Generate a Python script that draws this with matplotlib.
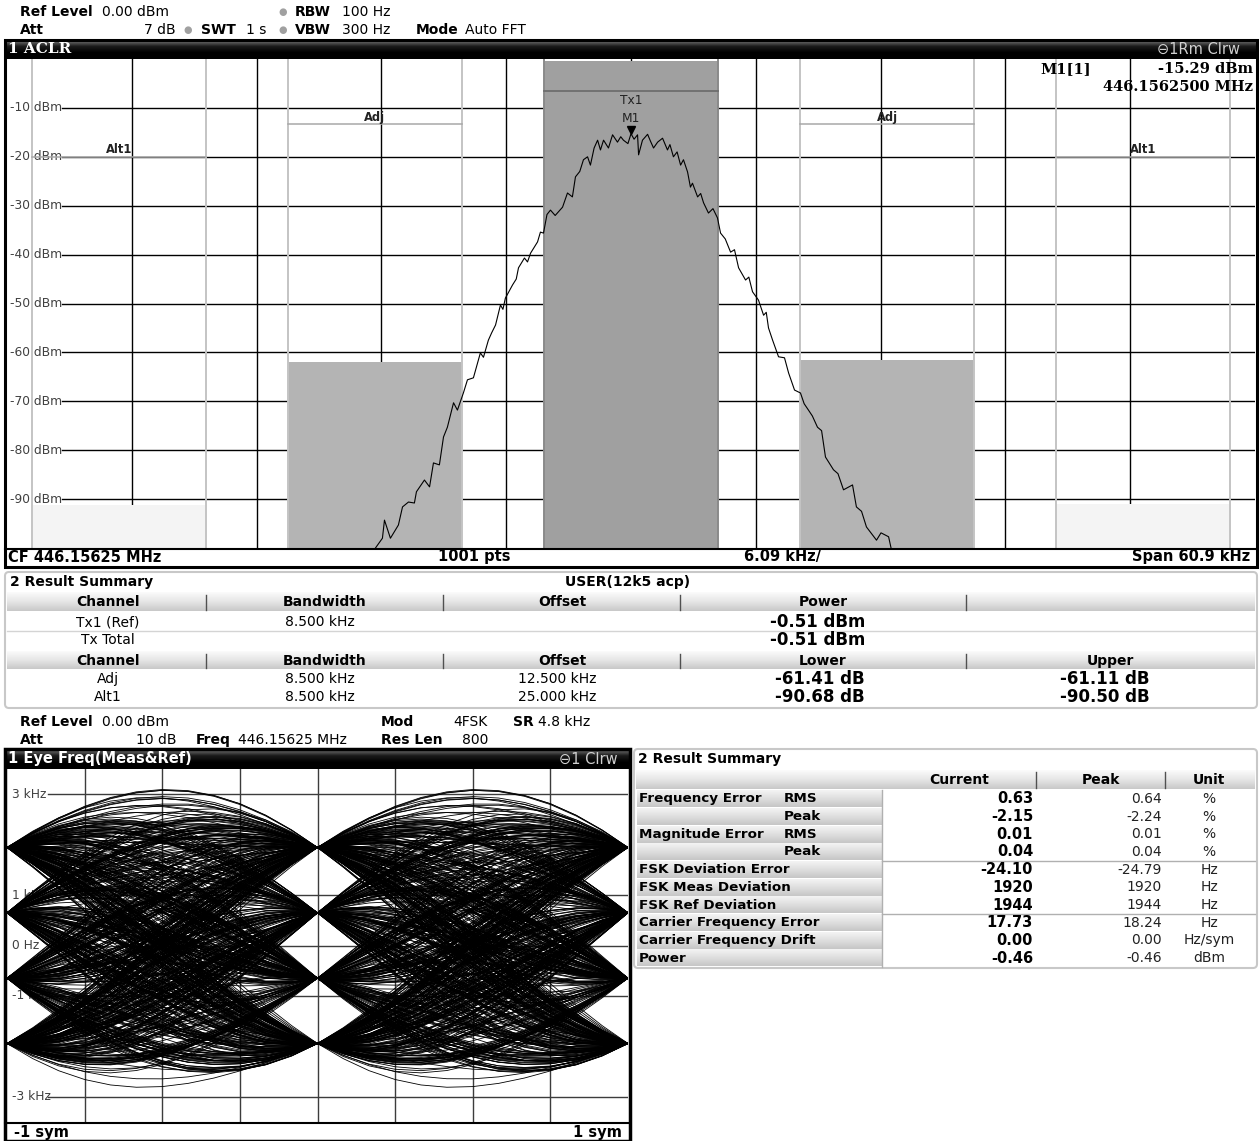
import numpy as np
import matplotlib
matplotlib.use("Agg")
import matplotlib.pyplot as plt
from matplotlib.collections import LineCollection
from matplotlib.colors import LinearSegmentedColormap
from matplotlib.patches import Rectangle, FancyBboxPatch

# --- ACLR data ---------------------------------------------------------------
SPAN_KHZ = 60.9
REF_POWER = -0.51                      # Tx1 channel power, dBm
CH_NAMES = ["Alt1", "Adj", "Tx1", "Adj", "Alt1"]
CH_OFFSET = [-25.0, -12.5, 0.0, 12.5, 25.0]   # kHz
CH_BW = 8.5                            # kHz
CH_REL = [-90.68, -61.41, 0.0, -61.11, -90.50]  # dB rel. to Tx1
CH_LIMIT = [-20.0, -13.3, -6.5, -13.3, -20.0]   # channel label lines, dBm

TRACE_KHZ = [-12.60, -12.47, -12.13, -12.03, -11.74, -11.35, -11.15, -10.86,
             -10.57, -10.47, -10.08, -9.83, -9.64, -9.35, -9.15, -8.96,
             -8.66, -8.47, -8.18, -7.98, -7.69, -7.35, -7.20, -6.96, -6.80,
             -6.61, -6.37, -6.25, -6.13, -5.78, -5.60, -5.49, -5.20, -5.05,
             -4.90, -4.56, -4.42, -4.27, -4.10, -3.93, -3.70, -3.34, -3.10,
             -2.86, -2.71, -2.50, -2.32, -2.12, -1.98, -1.80, -1.63, -1.49,
             -1.34, -1.10, -0.90, -0.66, -0.50, -0.37, -0.15, 0.00, 0.15,
             0.32, 0.37, 0.56, 0.81, 0.95, 1.10, 1.30, 1.54, 1.78, 1.90,
             2.07, 2.25, 2.42, 2.56, 2.76, 2.90, 3.00, 3.25, 3.40, 3.54, 3.78,
             4.00, 4.22, 4.37, 4.60, 4.86, 5.05, 5.25, 5.59, 5.75, 5.93, 6.22,
             6.47, 6.60, 6.71, 6.91, 7.20, 7.49, 7.69, 7.98, 8.27, 8.45, 8.66,
             8.85, 9.10, 9.30, 9.49, 9.88, 10.10, 10.37, 10.81, 11.00, 11.25,
             11.49, 11.98, 12.20, 12.57, 12.69, 12.80]
TRACE_DBM = [-101.0, -100.0, -98.0, -94.3, -98.0, -95.3, -91.6, -90.6,
             -90.8, -88.5, -86.1, -87.5, -82.6, -83.0, -77.3, -75.3,
             -70.3, -71.8, -68.3, -65.6, -65.2, -60.1, -61.0, -57.5, -56.0,
             -54.4, -50.3, -51.2, -48.9, -46.2, -45.0, -42.7, -40.7, -41.5,
             -39.7, -37.4, -35.4, -35.6, -31.8, -30.9, -32.0, -30.3, -27.4,
             -28.2, -24.1, -23.0, -20.6, -20.0, -21.7, -18.2, -16.6, -18.6,
             -16.6, -18.2, -15.5, -17.0, -15.9, -16.6, -17.3, -15.29, -16.4,
             -15.5, -19.6, -16.6, -15.4, -16.8, -18.2, -17.0, -16.2, -18.6,
             -17.5, -20.0, -19.0, -21.7, -20.6, -23.1, -26.2, -25.4, -28.2,
             -27.5, -29.4, -31.5, -30.6, -32.5, -35.6, -36.8, -39.5, -39.0,
             -42.7, -45.2, -44.6, -47.6, -49.3, -52.4, -51.8, -55.0, -57.5,
             -60.9, -61.1, -64.2, -67.7, -68.3, -70.5, -71.8, -73.0, -75.3,
             -76.0, -81.4, -84.0, -84.8, -88.1, -87.1, -91.6, -92.5, -95.7,
             -98.4, -96.9, -97.7, -100.0, -101.0]
MARKER_KHZ, MARKER_DBM = 0.0, -15.29

# --- eye diagram data (4FSK) -------------------------------------------------
LEVELS_HZ = [-1944, -648, 648, 1944]
SYMBOLS = ("3102231302013321001232310203311202130023"
           "1321031203320112302133012203130210032131"
           "2300231132021033120130221332010312130233"
           "0120213103320112302103213023011320312023"
           "1013302210312031322010312302133021103202"
           "3120133210231203102330213012033102132013"
           "1203321012302021332013023102133012031220"
           "3102313021032013320121303120231013203213"
           "0122303102132031023312013203102301321023"
           "2013023110320213302103123013202310312023"
           "0312201330210213023310120321302013320312"
           "1023013320210312302132031023102130321032"
           "2031302102331021302310213320103213023012"
           "3021031220130321023102330120312031021320"
           "1302132013021033102312023103213012032103"
           "0231201320310213302120313021023310213021"
           "3102031230210132031302102332013023012031"
           "2013201302310231302102130231203102313201")
ROLLOFF = 0.28
SAMPLES_PER_SYM = 12

# --- result tables -------------------------------------------------------------
ACP_HEAD = ["Channel", "Bandwidth", "Offset", "Power", ""]
ACP_HEAD2 = ["Channel", "Bandwidth", "Offset", "Lower", "Upper"]
ACP_ROWS = [("Tx1 (Ref)", "8.500 kHz", "", "-0.51 dBm", ""),
            ("Tx Total", "", "", "-0.51 dBm", "")]
ACP_ROWS2 = [("Adj", "8.500 kHz", "12.500 kHz", "-61.41 dB", "-61.11 dB"),
             ("Alt1", "8.500 kHz", "25.000 kHz", "-90.68 dB", "-90.50 dB")]

RS_LABEL = ["Frequency Error", "", "Magnitude Error", "", "FSK Deviation Error",
            "FSK Meas Deviation", "FSK Ref Deviation", "Carrier Frequency Error",
            "Carrier Frequency Drift", "Power"]
RS_SUB = ["RMS", "Peak", "RMS", "Peak", "", "", "", "", "", ""]
RS_CURRENT = ["0.63", "-2.15", "0.01", "0.04", "-24.10", "1920", "1944",
              "17.73", "0.00", "-0.46"]
RS_PEAK = ["0.64", "-2.24", "0.01", "0.04", "-24.79", "1920", "1944",
           "18.24", "0.00", "-0.46"]
RS_UNIT = ["%", "%", "%", "%", "Hz", "Hz", "Hz", "Hz", "Hz/sym", "dBm"]

# --- layout (pixels) ---------------------------------------------------------
W, H = 1260, 1141
SANS = "DejaVu Sans"
SERIF = "DejaVu Serif"

fig = plt.figure(figsize=(W / 100, H / 100), dpi=100)
bg = fig.add_axes([0, 0, 1, 1])
bg.set_zorder(0)
fg = fig.add_axes([0, 0, 1, 1])
fg.set_zorder(5)
fg.patch.set_visible(False)


def rect(x0, y0, x1, y1):
    return [x0 / W, 1 - y1 / H, (x1 - x0) / W, (y1 - y0) / H]


def grad(x0, y0, x1, y1, colors, z=1):
    cmap = LinearSegmentedColormap.from_list("g", colors)
    g = np.linspace(0, 1, 64).reshape(-1, 1)
    bg.imshow(g, extent=(x0, x1, y1, y0), aspect="auto", cmap=cmap, zorder=z,
              interpolation="bilinear")


def txt(x, y, s, size=10, bold=False, ha="left", color="black", family=SANS):
    fg.text(x, y, s, fontsize=size, fontweight="bold" if bold else "normal",
            ha=ha, va="center", color=color, family=family)


BAR = ["#7a7a7a", "#1a1a1a", "#000000", "#000000"]
HEAD = ["#fbfbfb", "#e6e6e6", "#c8c8c8"]
CELL = ["#f4f4f4", "#dedede", "#c6c6c6"]

# ---------------------------------------------------------------- top header
txt(20, 12, "Ref Level", bold=True)
txt(102, 12, "0.00 dBm")
txt(20, 30, "Att", bold=True)
txt(176, 30, "7 dB", ha="right")
for x, y in [(283, 12), (188, 30), (283, 30)]:
    txt(x, y, "\u25CF", size=7, ha="center", color="#a0a0a0")
txt(295, 12, "RBW", bold=True)
txt(342, 12, "100 Hz")
txt(201, 30, "SWT", bold=True)
txt(246, 30, "1 s")
txt(295, 30, "VBW", bold=True)
txt(342, 30, "300 Hz")
txt(416, 30, "Mode", bold=True)
txt(465, 30, "Auto FFT")

# ---------------------------------------------------------------- ACLR panel
grad(5, 40, 1257, 59, BAR)
txt(8, 49, "1 ACLR", size=11, bold=True, color="white", family=SERIF)
txt(1240, 49, "\u22961Rm Clrw", size=10.5, ha="right", color="#d0d0d0")
fg.add_patch(Rectangle((5, 40), 1252, 527, fill=False, ec="black", lw=2.2))
fg.plot([5, 1257], [548.5, 548.5], color="black", lw=1.5)
txt(8, 557, "CF 446.15625 MHz", size=10.5, bold=True)
txt(474, 557, "1001 pts", size=10.5, bold=True, ha="center")
txt(783, 557, "6.09 kHz/", size=10.5, bold=True, ha="center")
txt(1250, 557, "Span 60.9 kHz", size=10.5, bold=True, ha="right")

half = SPAN_KHZ / 2
ax = fig.add_axes(rect(7, 59, 1255, 548))
ax.set_zorder(2)
ax.set_xlim(-half, half)
ax.set_ylim(-100, 0)
ax.axis("off")
div = SPAN_KHZ / 10
for k in range(1, 10):
    ax.axvline(-half + k * div, color="black", lw=1, zorder=1)
x_lab_end = -half + 55 / 1248 * SPAN_KHZ
for lvl in range(-10, -100, -10):
    ax.plot([x_lab_end, half], [lvl, lvl], color="black", lw=1, zorder=1)
    ax.text(-half + 3 / 1248 * SPAN_KHZ, lvl, f"{lvl} dBm", fontsize=8.8,
            color="#404040", va="center", ha="left", family=SANS, zorder=1)

ch_power = [REF_POWER + r for r in CH_REL]
ch_fill = ["#f4f4f4", "#b4b4b4", "#a0a0a0", "#b4b4b4", "#f4f4f4"]
ch_edge = ["#c4c4c4", "#c4c4c4", "#8a8a8a", "#c4c4c4", "#c4c4c4"]
ax.bar(CH_OFFSET, [p + 100 for p in ch_power], width=CH_BW, bottom=-100,
       color=ch_fill, lw=0, zorder=2)
for off, name, lim, ec in zip(CH_OFFSET, CH_NAMES, CH_LIMIT, ch_edge):
    for e in (off - CH_BW / 2, off + CH_BW / 2):
        ax.axvline(e, color=ec, lw=1.4, zorder=2.5)
    if name == "Tx1":
        ax.plot([off - CH_BW / 2, off + CH_BW / 2], [lim, lim], color="#6e6e6e",
                lw=1.3, zorder=2.6)
        ax.text(off, lim - 1.9, name, fontsize=8.8, ha="center", va="center",
                color="#222222", family=SANS, zorder=3)
    else:
        ax.plot([off - CH_BW / 2, off + CH_BW / 2], [lim, lim], color="#a8a8a8",
                lw=1.1, zorder=2.6)
        ax.text(off, lim + 1.4, name, fontsize=8.3, fontweight="bold",
                ha="center", va="center", color="#222222", family=SANS, zorder=3)
ax.plot(TRACE_KHZ, TRACE_DBM, color="black", lw=0.8, zorder=4)
ax.plot([MARKER_KHZ], [MARKER_DBM + 0.8], marker="v", color="black", ms=6,
        zorder=5)
ax.text(MARKER_KHZ, MARKER_DBM + 3.2, "M1", fontsize=8.8, ha="center",
        va="center", color="#222222", family=SANS, zorder=5)

txt(1040, 69, "M1[1]", size=10.5, bold=True, family=SERIF)
txt(1253, 69, f"{MARKER_DBM:.2f} dBm", size=10.5, bold=True, ha="right",
    family=SERIF)
txt(1253, 87, "446.1562500 MHz", size=10.5, bold=True, ha="right", family=SERIF)

# ---------------------------------------------------------------- ACP table
fg.add_patch(FancyBboxPatch((5, 572), 1252, 136, boxstyle="round,pad=0,rounding_size=4",
                            fill=False, ec="#c8c8c8", lw=1.5))
txt(10, 582, "2 Result Summary", size=10, bold=True)
txt(628, 582, "USER(12k5 acp)", size=10, bold=True, ha="center")
col_x = [108, 325, 562, 823, 1110]
col_sep = [206, 443, 680, 966]
for y0, y1, heads in [(592, 611, ACP_HEAD), (651, 669, ACP_HEAD2)]:
    grad(7, y0, 1255, y1, HEAD)
    for xs in col_sep:
        fg.plot([xs, xs], [y0 + 3, y1 - 1], color="#505050", lw=1)
    for x, h in zip(col_x, heads):
        txt(x, (y0 + y1) / 2 + 1, h, size=10, bold=True, ha="center")
fg.plot([7, 1255], [631, 631], color="#d4d4d4", lw=1)
for y, row in zip([622, 640], ACP_ROWS):
    txt(col_x[0], y, row[0], size=10, ha="center")
    txt(320, y, row[1], size=10, ha="center")
    txt(818, y, row[3], size=12, bold=True, ha="center")
for y, row in zip([679, 697], ACP_ROWS2):
    txt(col_x[0], y, row[0], size=10, ha="center")
    txt(320, y, row[1], size=10, ha="center")
    txt(557, y, row[2], size=10, ha="center")
    txt(820, y, row[3], size=12, bold=True, ha="center")
    txt(1105, y, row[4], size=12, bold=True, ha="center")

# ---------------------------------------------------------------- eye header
txt(20, 722, "Ref Level", bold=True)
txt(102, 722, "0.00 dBm")
txt(20, 740, "Att", bold=True)
txt(176, 740, "10 dB", ha="right")
txt(196, 740, "Freq", bold=True)
txt(238, 740, "446.15625 MHz")
txt(381, 722, "Mod", bold=True)
txt(453, 722, "4FSK")
txt(513, 722, "SR", bold=True)
txt(538, 722, "4.8 kHz")
txt(381, 740, "Res Len", bold=True)
txt(462, 740, "800")

# ---------------------------------------------------------------- eye panel
grad(5, 749, 630, 769, BAR)
txt(8, 759, "1 Eye Freq(Meas&Ref)", size=10.5, bold=True, color="white")
txt(618, 759, "\u22961 Clrw", size=10.5, ha="right", color="#d0d0d0")
fg.add_patch(Rectangle((5, 749), 625, 392, fill=False, ec="black", lw=2.5))
fg.plot([5, 630], [1122.5, 1122.5], color="black", lw=1.5)
txt(14, 1133, "-1 sym", size=10.5, bold=True)
txt(622, 1133, "1 sym", size=10.5, bold=True, ha="right")

ex = fig.add_axes(rect(7, 769, 628, 1122))
ex.set_zorder(2)
ex.set_xlim(-1, 1)
ex.set_ylim(-3.5, 3.5)
ex.axis("off")
for k in range(1, 8):
    ex.axvline(-1 + k * 0.25, color="#3c3c3c", lw=1, zorder=1)
for lvl, lab in [(3, "3 kHz"), (1, "1 kHz"), (0, "0 Hz"), (-1, "-1 kHz"),
                 (-3, "-3 kHz")]:
    ex.plot([-0.868, 1], [lvl, lvl], color="#3c3c3c", lw=1, zorder=1)
    ex.text(-0.984, lvl, lab, fontsize=8.8, color="#404040", va="center",
            family=SANS, zorder=1)

amp = np.array([LEVELS_HZ[int(c)] for c in SYMBOLS]) / 1000.0
n = np.arange(len(amp))
t = np.linspace(-1, 1, 2 * SAMPLES_PER_SYM + 1)


def rc_pulse(x):
    den = 1 - (2 * ROLLOFF * x) ** 2
    den = np.where(np.abs(den) < 1e-6, 1e-6, den)
    return np.sinc(x) * np.cos(np.pi * ROLLOFF * x) / den


segs = []
for k in range(6, len(amp) - 6):
    y = rc_pulse((k + t)[:, None] - n[None, :]) @ amp
    segs.append(np.column_stack([t, y]))
ex.add_collection(LineCollection(segs, colors="black", linewidths=0.6,
                                 zorder=3))

# ---------------------------------------------------------------- FSK summary
fg.add_patch(FancyBboxPatch((634, 749), 623, 219, boxstyle="round,pad=0,rounding_size=4",
                            fill=False, ec="#c8c8c8", lw=1.5))
txt(638, 759, "2 Result Summary", size=10, bold=True)
grad(636, 770, 1255, 789, HEAD)
for xs in [1036, 1165]:
    fg.plot([xs, xs], [772, 788], color="#505050", lw=1)
txt(959, 780, "Current", size=10, bold=True, ha="center")
txt(1101, 780, "Peak", size=10, bold=True, ha="center")
txt(1209, 780, "Unit", size=10, bold=True, ha="center")
row_h = 17.7
for i in range(len(RS_LABEL)):
    y0 = 790 + i * row_h
    yc = y0 + row_h / 2
    grad(637, y0 + 0.5, 882, y0 + row_h - 0.5, CELL)
    txt(639, yc, RS_LABEL[i], size=9.7, bold=True)
    if RS_SUB[i]:
        txt(784, yc, RS_SUB[i], size=9.7, bold=True)
    txt(1033, yc, RS_CURRENT[i], size=10.5, bold=True, ha="right")
    txt(1162, yc, RS_PEAK[i], size=10, ha="right", color="#222222")
    txt(1209, yc, RS_UNIT[i], size=10, ha="center", color="#222222")
for ys in [790 + 4 * row_h, 790 + 7 * row_h]:
    fg.plot([882, 1255], [ys, ys], color="#b0b0b0", lw=1)
fg.plot([882, 882], [790, 790 + 10 * row_h], color="#b0b0b0", lw=1)

for a in (bg, fg):
    a.set_xlim(0, W)
    a.set_ylim(H, 0)
    a.axis("off")

fig.savefig("out.png", dpi=100)
